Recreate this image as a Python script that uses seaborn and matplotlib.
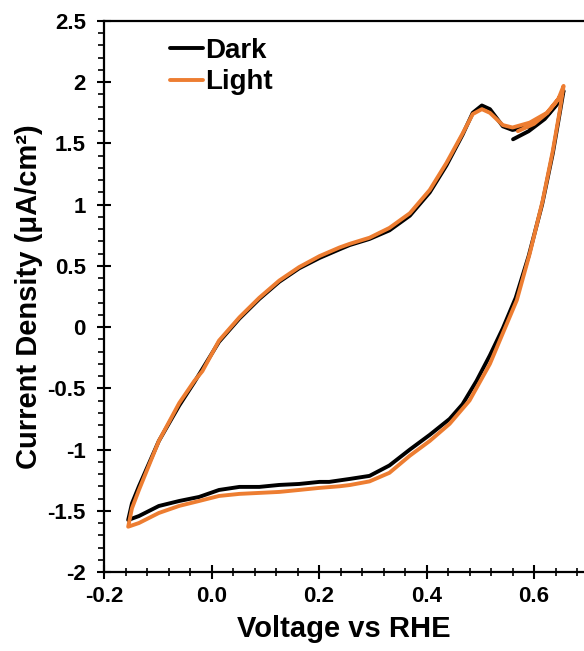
import matplotlib
matplotlib.use("Agg")
import matplotlib.pyplot as plt
import seaborn as sns
import pandas as pd
import numpy as np
from matplotlib.ticker import MultipleLocator, FuncFormatter

# ---- data ----
dark_v = [0.561, 0.590, 0.620, 0.645, 0.655,
          0.648, 0.635, 0.615, 0.590, 0.566, 0.542, 0.518, 0.493, 0.467, 0.443,
          0.406, 0.369, 0.331, 0.294, 0.257, 0.219, 0.201, 0.163, 0.126, 0.089,
          0.052, 0.014, -0.023, -0.060, -0.098, -0.135, -0.155,
          -0.148, -0.135, -0.098, -0.060, -0.032, 0.014, 0.052, 0.089, 0.126,
          0.163, 0.201, 0.238, 0.257, 0.294, 0.331, 0.369, 0.406, 0.437, 0.467,
          0.486, 0.503, 0.518, 0.542, 0.560, 0.592, 0.624, 0.652]
dark_j = [1.534, 1.600, 1.700, 1.830, 1.930,
          1.750, 1.420, 1.000, 0.580, 0.240, -0.010, -0.230, -0.440, -0.630, -0.750,
          -0.880, -1.000, -1.130, -1.215, -1.240, -1.264, -1.264, -1.281, -1.289, -1.305,
          -1.305, -1.330, -1.387, -1.420, -1.461, -1.543, -1.575,
          -1.440, -1.300, -0.930, -0.640, -0.450, -0.120, 0.070, 0.230, 0.370,
          0.480, 0.565, 0.635, 0.670, 0.720, 0.790, 0.910, 1.100, 1.320, 1.570,
          1.750, 1.810, 1.780, 1.640, 1.610, 1.640, 1.730, 1.880]

light_v = [0.570, 0.600, 0.625, 0.645, 0.655,
           0.648, 0.635, 0.616, 0.592, 0.568, 0.542, 0.518, 0.480, 0.443, 0.406,
           0.369, 0.331, 0.294, 0.257, 0.238, 0.201, 0.163, 0.126, 0.089, 0.052,
           0.014, -0.023, -0.060, -0.098, -0.135, -0.155,
           -0.148, -0.135, -0.098, -0.060, -0.032, -0.017, 0.014, 0.052, 0.089,
           0.126, 0.163, 0.201, 0.238, 0.257, 0.294, 0.331, 0.369, 0.406, 0.437,
           0.467, 0.486, 0.503, 0.518, 0.542, 0.560, 0.592, 0.624, 0.652]
light_j = [1.600, 1.660, 1.750, 1.860, 1.970,
           1.770, 1.440, 1.030, 0.600, 0.220, -0.050, -0.300, -0.600, -0.790, -0.930,
           -1.050, -1.190, -1.260, -1.290, -1.300, -1.313, -1.330, -1.346, -1.354, -1.362,
           -1.379, -1.420, -1.460, -1.518, -1.600, -1.630,
           -1.480, -1.330, -0.930, -0.620, -0.440, -0.360, -0.110, 0.080, 0.240,
           0.380, 0.490, 0.580, 0.650, 0.680, 0.730, 0.810, 0.930, 1.120, 1.340,
           1.580, 1.740, 1.780, 1.750, 1.650, 1.630, 1.670, 1.750, 1.900]

series_names = ["Dark", "Light"]
series_colors = ["#000000", "#ED7D31"]

x_ticks = [-0.2, 0.0, 0.2, 0.4, 0.6]
y_ticks = [-2, -1.5, -1, -0.5, 0, 0.5, 1, 1.5, 2, 2.5]

df = pd.concat([
    pd.DataFrame({"V": dark_v, "J": dark_j, "series": "Dark"}),
    pd.DataFrame({"V": light_v, "J": light_j, "series": "Light"}),
], ignore_index=True)

sns.set_style("white")
plt.rcParams["font.family"] = ["Liberation Sans", "DejaVu Sans"]
plt.rcParams["axes.unicode_minus"] = False
plt.rcParams["text.color"] = "black"
plt.rcParams["axes.labelcolor"] = "black"
plt.rcParams["xtick.color"] = "black"
plt.rcParams["ytick.color"] = "black"

fig = plt.figure(figsize=(5.84, 6.51), dpi=100)
ax = fig.add_axes([104 / 584, 1 - 572 / 651, 1 - 104 / 584, (572 - 21) / 651])

sns.lineplot(data=df, x="V", y="J", hue="series", hue_order=series_names,
             palette=series_colors, sort=False, estimator=None,
             linewidth=2.8, ax=ax)

ax.set_xlim(-0.2, 0.693)
ax.set_ylim(-2, 2.5)
ax.set_xticks(x_ticks)
ax.set_yticks(y_ticks)
ax.xaxis.set_minor_locator(MultipleLocator(0.04))
ax.yaxis.set_minor_locator(MultipleLocator(0.1))
ax.xaxis.set_major_formatter(FuncFormatter(lambda v, p: f"{v:.1f}"))
ax.yaxis.set_major_formatter(FuncFormatter(lambda v, p: f"{v:g}"))

for s in ["left", "bottom", "top"]:
    ax.spines[s].set_visible(True)
    ax.spines[s].set_color("black")
    ax.spines[s].set_linewidth(1.6)
ax.spines["right"].set_visible(False)

ax.tick_params(axis="x", which="major", direction="inout", length=10, width=1.5,
               pad=5, labelsize=16, bottom=True, top=False, colors="black")
ax.tick_params(axis="x", which="minor", direction="inout", length=6, width=1.2,
               bottom=True, top=False, colors="black")
ax.tick_params(axis="y", which="major", direction="inout", length=10, width=1.5,
               pad=8, labelsize=16, left=True, right=False, colors="black")
ax.tick_params(axis="y", which="minor", direction="out", length=4, width=1.2,
               left=True, right=False, colors="black")
for lab in ax.get_xticklabels() + ax.get_yticklabels():
    lab.set_fontweight("bold")

ax.set_xlabel("Voltage vs RHE", fontsize=21, fontweight="bold", labelpad=6,
              color="black")
ax.set_ylabel("Current Density (μA/cm²)", fontsize=21, fontweight="bold",
              labelpad=3, color="black")

handles, labels = ax.get_legend_handles_labels()
leg = ax.legend(handles, labels, loc="upper left", bbox_to_anchor=(0.085, 1.015),
                frameon=False, handlelength=1.2, handletextpad=0.08,
                labelspacing=0.2, prop={"weight": "bold", "size": 20})
for h in leg.get_lines():
    h.set_linewidth(2.8)
for t in leg.get_texts():
    t.set_color("black")

ax.grid(False)
fig.savefig("out.png", dpi=100)
